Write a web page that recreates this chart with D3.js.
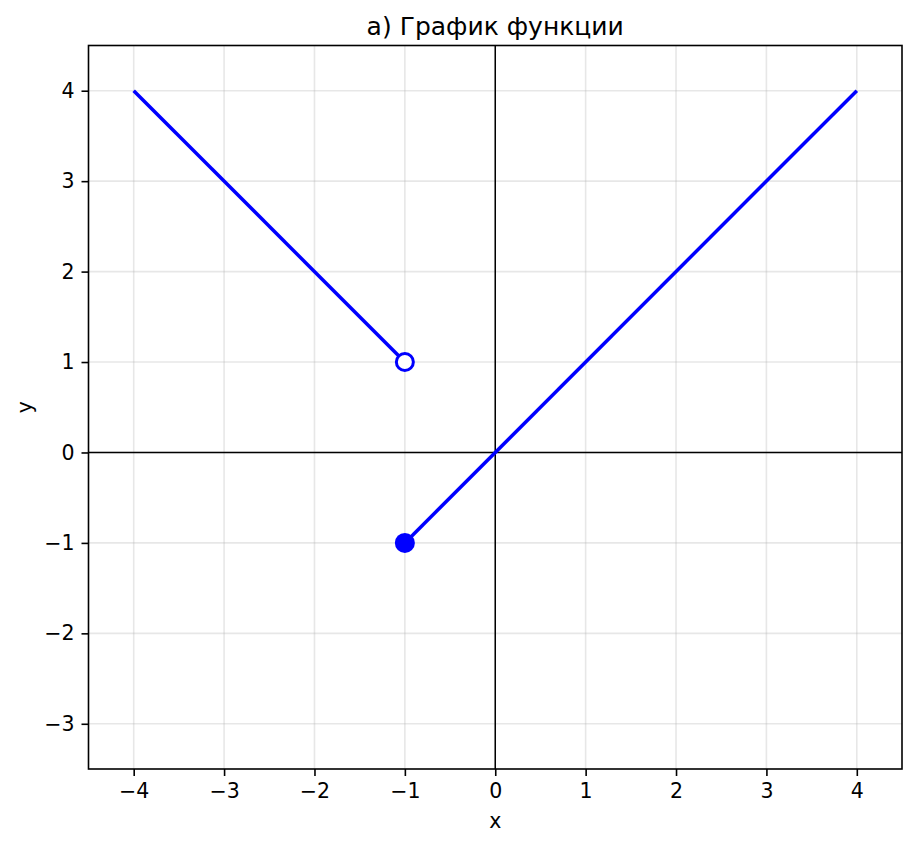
<!DOCTYPE html>
<html>
<head>
<meta charset="utf-8">
<script src="https://cdn.jsdelivr.net/npm/d3@7"></script>
<style>
  body { margin: 0; background: #fff; }
  svg { font-family: "DejaVu Sans", sans-serif; }
</style>
</head>
<body>
<div id="chart"></div>
<script>
// data
var leftX = [-4, -1];
var leftY = [4, 1];
var rightX = [-1, 4];
var rightY = [-1, 4];
var openPoint = [-1, 1];
var filledPoint = [-1, -1];
var xTicks = [-4, -3, -2, -1, 0, 1, 2, 3, 4];
var yTicks = [-3, -2, -1, 0, 1, 2, 3, 4];

var width = 917, height = 847;
var mLeft = 88.5, mRight = 902, mTop = 45.5, mBottom = 769;

var svg = d3.select("#chart").append("svg")
    .attr("width", width)
    .attr("height", height);

var x = d3.scaleLinear().domain([-4.5, 4.5]).range([mLeft, mRight]);
var y = d3.scaleLinear().domain([-3.5, 4.5]).range([mBottom, mTop]);

// grid
svg.append("g").selectAll("line").data(xTicks).enter().append("line")
    .attr("x1", d => x(d)).attr("x2", d => x(d))
    .attr("y1", mTop).attr("y2", mBottom)
    .attr("stroke", "#b0b0b0").attr("stroke-opacity", 0.3).attr("stroke-width", 1.6);
svg.append("g").selectAll("line").data(yTicks).enter().append("line")
    .attr("y1", d => y(d)).attr("y2", d => y(d))
    .attr("x1", mLeft).attr("x2", mRight)
    .attr("stroke", "#b0b0b0").attr("stroke-opacity", 0.3).attr("stroke-width", 1.6);

// zero lines
svg.append("line")
    .attr("x1", x(0)).attr("x2", x(0)).attr("y1", mTop).attr("y2", mBottom)
    .attr("stroke", "#000").attr("stroke-width", 1.5);
svg.append("line")
    .attr("y1", y(0)).attr("y2", y(0)).attr("x1", mLeft).attr("x2", mRight)
    .attr("stroke", "#000").attr("stroke-width", 1.5);

var line = d3.line().x(d => x(d[0])).y(d => y(d[1]));

svg.append("path")
    .datum(d3.zip(leftX, leftY))
    .attr("d", line)
    .attr("fill", "none").attr("stroke", "#0000ff").attr("stroke-width", 3.5);
svg.append("path")
    .datum(d3.zip(rightX, rightY))
    .attr("d", line)
    .attr("fill", "none").attr("stroke", "#0000ff").attr("stroke-width", 3.5);

svg.append("circle")
    .attr("cx", x(openPoint[0])).attr("cy", y(openPoint[1]))
    .attr("r", 8.5)
    .attr("fill", "#fff").attr("stroke", "#0000ff").attr("stroke-width", 3);
svg.append("circle")
    .attr("cx", x(filledPoint[0])).attr("cy", y(filledPoint[1]))
    .attr("r", 10)
    .attr("fill", "#0000ff");

// axes
var fmt = d => d < 0 ? "\u2212" + Math.abs(d) : String(d);

var xAxis = svg.append("g")
    .attr("transform", "translate(0," + mBottom + ")")
    .call(d3.axisBottom(x).tickValues(xTicks).tickSize(7).tickPadding(7).tickFormat(fmt));
var yAxis = svg.append("g")
    .attr("transform", "translate(" + mLeft + ",0)")
    .call(d3.axisLeft(y).tickValues(yTicks).tickSize(7).tickPadding(7).tickFormat(fmt));

[xAxis, yAxis].forEach(function(a) {
    a.select(".domain").remove();
    a.selectAll(".tick line").attr("stroke", "#000").attr("stroke-width", 1.6);
    a.selectAll(".tick text").attr("fill", "#000")
        .style("font-size", "20.5px").style("font-family", "DejaVu Sans");
});

// frame
svg.append("rect")
    .attr("x", mLeft).attr("y", mTop)
    .attr("width", mRight - mLeft).attr("height", mBottom - mTop)
    .attr("fill", "none").attr("stroke", "#000").attr("stroke-width", 1.6);

svg.append("text")
    .attr("x", (mLeft + mRight) / 2).attr("y", 35)
    .attr("text-anchor", "middle")
    .style("font-size", "25px")
    .text("а) График функции");

svg.append("text")
    .attr("x", (mLeft + mRight) / 2).attr("y", 828)
    .attr("text-anchor", "middle")
    .style("font-size", "20.5px")
    .text("x");

svg.append("text")
    .attr("transform", "translate(32," + (mTop + mBottom) / 2 + ") rotate(-90)")
    .attr("text-anchor", "middle")
    .style("font-size", "20.5px")
    .text("y");
</script>
</body>
</html>
